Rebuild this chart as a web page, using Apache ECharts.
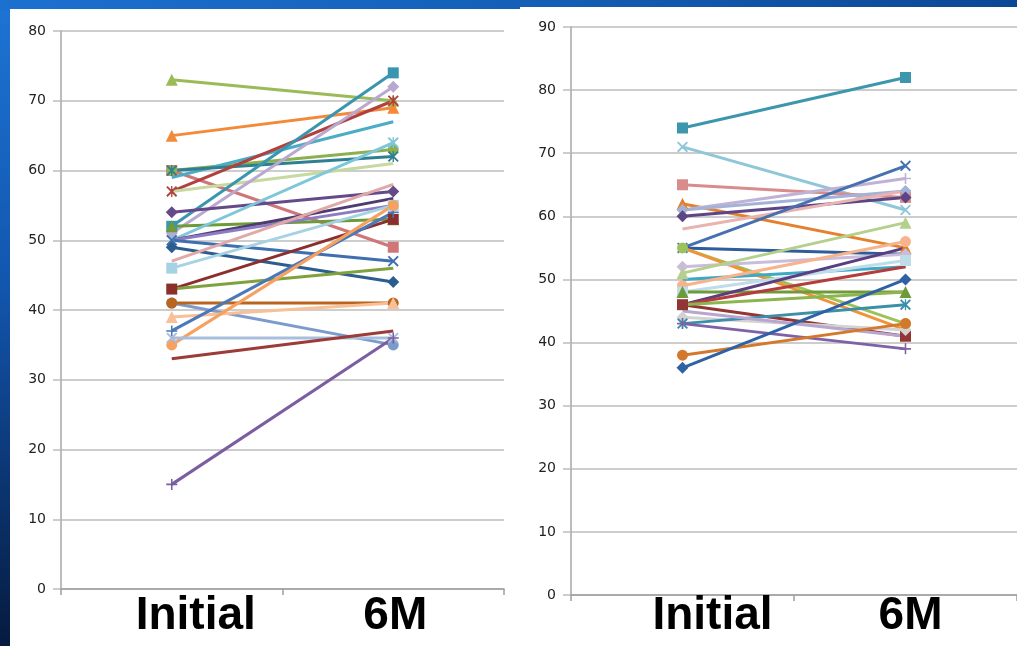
<!DOCTYPE html>
<html>
<head>
<meta charset="utf-8">
<script src="https://cdn.jsdelivr.net/npm/echarts/dist/echarts.min.js"></script>
<style>
html, body {
    margin: 0;
    padding: 0;
    width: 1017px;
    height: 646px;
    overflow: hidden;
    background: linear-gradient(to bottom, #1d74d4 0%, #1255ad 45%, #061a3e 100%);
}
.top-strip {
    position: absolute; left: 0; top: 0; width: 1017px; height: 10px;
    background: linear-gradient(to right, #1c70d0 0%, #1460b8 50%, #0c4795 100%);
}
.panel { position: absolute; background: #fff; }
#main { position: absolute; left: 0; top: 0; width: 1017px; height: 646px; }
</style>
</head>
<body>
<div class="top-strip"></div>
<div class="panel" style="left:10px; top:9px; width:512px; height:637px;"></div>
<div class="panel" style="left:520px; top:7px; width:497px; height:639px;"></div>
<div id="main"></div>
<script>
// categories
const categories = ['Initial', '6M']

// left chart: values at Initial and at 6M, one entry per patient
const leftInitial = [73, 65, 60, 60, 59, 60, 57, 57, 52, 51, 54, 52, 50, 50, 50, 50, 49, 47, 46, 43, 43, 41, 41, 39, 37, 35, 36, 33, 15]
const leftSixMonth = [70, 69, 49, 63, 67, 62, 70, 61, 74, 72, 57, 53, 64, 56, 55, 47, 44, 58, 55, 53, 46, 35, 41, 41, 54, 55, 36, 37, 36]

// right chart
const rightInitial = [74, 71, 65, 62, 61, 61, 60, 58, 55, 55, 55, 55, 52, 51, 50, 49, 48, 48, 46, 46, 46, 46, 44, 43, 43, 45, 38, 36]
const rightSixMonth = [82, 61, 63, 55, 66, 64, 63, 64, 68, 54, 43, 42, 54, 59, 52, 56, 53, 48, 41, 55, 52, 48, 42, 46, 39, 41, 43, 50]

// y axis ranges
const leftMax = 80
const rightMax = 90

// marker shapes (Excel style)
const SYMBOLS = {
    tri: 'triangle',
    sq: 'rect',
    dia: 'diamond',
    cir: 'circle',
    x: 'path://M0,1.2 L1.2,0 L10,8.8 L8.8,10 Z M8.8,0 L10,1.2 L1.2,10 L0,8.8 Z',
    plus: 'path://M4.3,0 H5.7 V10 H4.3 Z M0,4.3 H10 V5.7 H0 Z',
    star: 'path://M0,1.2 L1.2,0 L10,8.8 L8.8,10 Z M8.8,0 L10,1.2 L1.2,10 L0,8.8 Z M4.4,0 H5.6 V10 H4.4 Z',
    none: 'none'
}

// line colour + marker for each series
const leftStyles = [
    ['#9BBB59', 'tri'], ['#F38A3A', 'tri'], ['#D07679', 'sq'], ['#8CB050', 'cir'],
    ['#4BACC6', 'none'], ['#2E7F92', 'star'], ['#B0413E', 'star'], ['#C6D9A0', 'none'],
    ['#3A95AF', 'sq'], ['#B9A8D0', 'dia'], ['#654A8A', 'dia'], ['#6E9B3A', 'tri'],
    ['#7EC6DA', 'star'], ['#4D3B72', 'none'], ['#8E7CC3', 'none'], ['#3F6FAE', 'x'],
    ['#2C5D8F', 'dia'], ['#E0A8A6', 'none'], ['#A6D3E3', 'sq'], ['#8B2F2C', 'sq'],
    ['#7FA23E', 'none'], ['#7B9BCC', 'cir'], ['#B9651F', 'cir'], ['#F9BF96', 'tri'],
    ['#4A78B8', 'plus'], ['#F6A160', 'cir'], ['#A8BEDD', 'x'], ['#9C3B38', 'none'],
    ['#7A5EA0', 'plus']
]
const rightStyles = [
    ['#3C97AE', 'sq'], ['#8FC7D8', 'x'], ['#D88C8C', 'sq'], ['#E3812E', 'tri'],
    ['#C0B2D6', 'plus'], ['#A3B3D8', 'dia'], ['#5E4585', 'dia'], ['#E8B4B2', 'none'],
    ['#4670B0', 'x'], ['#2F5C9A', 'none'], ['#9BC35A', 'cir'], ['#F1933A', 'none'],
    ['#C9BDDB', 'dia'], ['#B5D08C', 'tri'], ['#3FA8C4', 'none'], ['#F7B38B', 'cir'],
    ['#BFDDE8', 'sq'], ['#6E9A3A', 'tri'], ['#933533', 'sq'], ['#5A3E80', 'none'],
    ['#B43C3A', 'none'], ['#8EB54D', 'none'], ['#D3D3D3', 'dia'], ['#3C8FA9', 'star'],
    ['#7E62A8', 'plus'], ['#B7A6CE', 'none'], ['#D4782C', 'cir'], ['#2F62A4', 'dia']
]

const symbolSize = (key) => {
    if (key === 'tri' || key === 'dia') return 12
    return 11
}

const buildSeries = (initial, sixMonth, styles, axis) => initial.map((v, i) => ({
    type: 'line',
    xAxisIndex: axis,
    yAxisIndex: axis,
    data: [v, sixMonth[i]],
    symbol: SYMBOLS[styles[i][1]],
    symbolSize: symbolSize(styles[i][1]),
    showSymbol: styles[i][1] !== 'none',
    itemStyle: { color: styles[i][0] },
    lineStyle: { color: styles[i][0], width: 3 },
    emphasis: { disabled: true },
    animation: false
}))

// big category labels, shifted like the text boxes on the slide
const bigLabel = (shiftInitial, shiftSix, margin) => ({
    margin: margin,
    interval: 0,
    formatter: (val) => (val === 'Initial' ? '{i|Initial}' : '{m|6M}'),
    rich: {
        i: {
            fontFamily: 'Liberation Sans, Arial, sans-serif',
            fontWeight: 'bold',
            fontSize: 46,
            lineHeight: 50,
            color: '#000',
            padding: [0, 0, 0, shiftInitial * 2]
        },
        m: {
            fontFamily: 'Liberation Sans, Arial, sans-serif',
            fontWeight: 'bold',
            fontSize: 46,
            lineHeight: 50,
            color: '#000',
            padding: [0, 0, 0, shiftSix * 2]
        }
    }
})

const xAxisBase = {
    type: 'category',
    data: categories,
    boundaryGap: true,
    axisLine: { lineStyle: { color: '#9E9E9E', width: 1.5 } },
    axisTick: { show: true, length: 6, lineStyle: { color: '#9E9E9E', width: 1.5 } },
    splitLine: { show: false }
}

const yAxisBase = {
    type: 'value',
    min: 0,
    interval: 10,
    axisLine: { show: true, lineStyle: { color: '#A6A6A6', width: 1.5 } },
    axisTick: { show: true, length: 8, lineStyle: { color: '#BDBDBD', width: 1.5 } },
    splitLine: { show: true, lineStyle: { color: '#BDBDBD', width: 1.5 } },
    axisLabel: {
        margin: 15,
        color: '#222',
        fontSize: 14,
        fontFamily: 'DejaVu Sans, sans-serif'
    }
}

const chart = echarts.init(document.getElementById('main'), null, { renderer: 'canvas' })

chart.setOption({
    backgroundColor: 'transparent',
    animation: false,
    grid: [
        { left: 61, top: 31, width: 443, height: 558 },
        { left: 571, top: 27, width: 446, height: 568 }
    ],
    xAxis: [
        Object.assign({}, xAxisBase, { gridIndex: 0, axisLabel: bigLabel(24, 2, 2) }),
        Object.assign({}, xAxisBase, { gridIndex: 1, axisLabel: bigLabel(30, 5, -4) })
    ],
    yAxis: [
        Object.assign({}, yAxisBase, { gridIndex: 0, max: leftMax }),
        Object.assign({}, yAxisBase, { gridIndex: 1, max: rightMax })
    ],
    series: [
        ...buildSeries(leftInitial, leftSixMonth, leftStyles, 0),
        ...buildSeries(rightInitial, rightSixMonth, rightStyles, 1)
    ]
})
</script>
</body>
</html>
